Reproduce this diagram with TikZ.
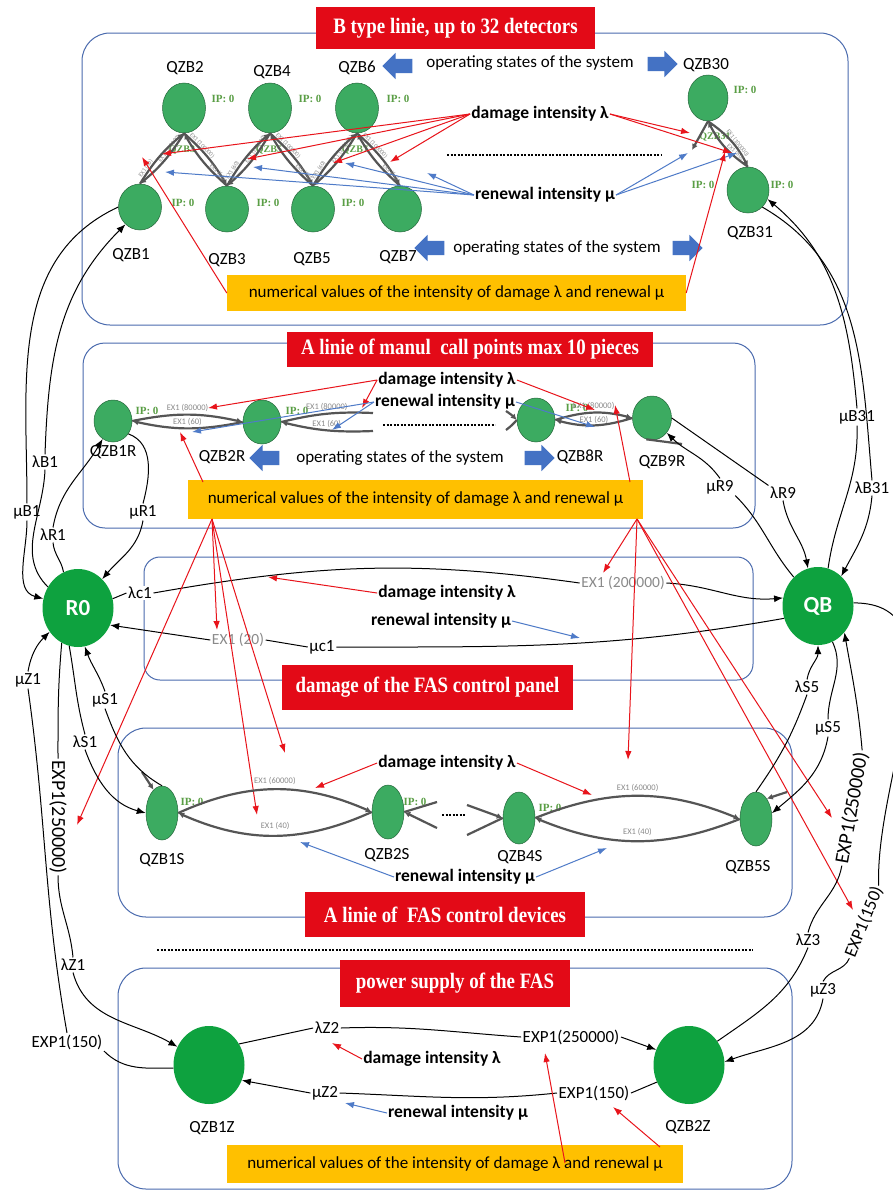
\documentclass[tikz,border=0pt]{standalone}
\usepackage{fontspec}
\setmainfont{Carlito}
\newfontfamily\serifface{Liberation Serif}
\usepackage{graphicx}
\usetikzlibrary{arrows.meta,shapes.geometric,shapes.arrows}

\definecolor{ngreen}{HTML}{3CAB61}
\definecolor{bgreen}{HTML}{0EA23F}
\definecolor{tred}{HTML}{E30A17}
\definecolor{ayellow}{HTML}{FFC000}
\definecolor{frameblue}{HTML}{4A6BAE}
\definecolor{ablue}{HTML}{4472C4}
\definecolor{lblue}{HTML}{4F7BC8}
\definecolor{arred}{HTML}{E8141B}
\definecolor{edgegray}{HTML}{555555}
\definecolor{ipgreen}{HTML}{5A9E45}
\definecolor{exgray}{HTML}{8A8A8A}

\newcommand{\TitleText}[1]{\scalebox{0.86}[1]{\serifface\bfseries\fontsize{22}{24}\selectfont #1}}

\begin{document}
\begin{tikzpicture}[x=1pt,y=-1pt,
  lbl/.style={font=\fontsize{17}{19}\selectfont, inner sep=1pt},
  onpath/.style={lbl, fill=white, inner sep=1.5pt},
  boldlbl/.style={font=\fontsize{17.5}{20}\selectfont\bfseries, inner sep=1pt},
  exlbl/.style={font=\fontsize{15.5}{17}\selectfont, text=exgray, fill=white, inner sep=1.5pt},
  elab/.style={font=\fontsize{8.5}{9}\selectfont, text=exgray, inner sep=0.5pt},
  elabt/.style={font=\fontsize{6}{6.5}\selectfont, text=exgray, inner sep=0pt},
  ipl/.style={font=\serifface\bfseries\fontsize{11}{12}\selectfont, text=ipgreen, inner sep=0pt},
  hidname/.style={font=\serifface\bfseries\fontsize{10}{10}\selectfont, text=ipgreen, inner sep=0pt},
  snode/.style={ellipse, fill=ngreen, draw=ngreen!60!black, line width=0.5pt, inner sep=0pt},
  bnode/.style={ellipse, fill=bgreen, inner sep=0pt, minimum width=71pt, minimum height=78pt,
                text=white, font=\bfseries\fontsize{23}{25}\selectfont},
  titlebox/.style={rectangle, fill=tred, text=white, inner sep=0pt},
  ybox/.style={rectangle, fill=ayellow, inner sep=0pt, font=\fontsize{17}{19}\selectfont},
  blueframe/.style={draw=frameblue, line width=1pt, rounded corners=28pt},
  blockarrow/.style={single arrow, fill=ablue, inner xsep=0pt, inner ysep=7pt,
                     minimum height=30pt, single arrow head extend=6pt},
  conn/.style={draw=black, line width=1pt},
  blk/.style={conn, -{Latex[length=9pt,width=7pt]}},
  redarr/.style={draw=arred, line width=1pt, -{Latex[length=9pt,width=6.5pt]}},
  bluearr/.style={draw=lblue, line width=1pt, -{Latex[length=9pt,width=6.5pt]}},
  gedge/.style={draw=edgegray, line width=2.2pt, -{Latex[length=6pt,width=6pt]}},
  dotline/.style={draw=black, line width=1.8pt, dash pattern=on 2.2pt off 1.3pt},
]
\useasboundingbox (0,0) rectangle (892,1191);
\fill[white] (0,0) rectangle (892,1191);

% ---------- section frames ----------
\draw[blueframe] (82,33) rectangle (848,325);
\draw[blueframe, rounded corners=22pt] (83,343) rectangle (755,528);
\draw[blueframe, rounded corners=16pt] (144,557) rectangle (753,680);
\draw[blueframe] (118,728) rectangle (792,917);
\draw[blueframe] (118,968) rectangle (792,1189);

% ---------- section titles ----------
\node[titlebox, minimum width=279pt, minimum height=42pt] (tB) at (455.5,28) {\TitleText{B type linie, up to 32 detectors}};
\node[titlebox, minimum width=366pt, minimum height=35pt] (tA) at (470,349.5) {\TitleText{A linie of manul~ call points max 10 pieces}};
\node[titlebox, minimum width=291pt, minimum height=45pt] (tC) at (427.5,687.5) {\TitleText{damage of the FAS control panel}};
\node[titlebox, minimum width=280pt, minimum height=45pt] (tS) at (445,914.5) {\TitleText{A linie of~ FAS control devices}};
\node[titlebox, minimum width=230pt, minimum height=47pt] (tZ) at (455,983.5) {\TitleText{power supply of the FAS}};

% ================= B type line =================
\node[hidname] (hb3) at (182,150) {QZB3};
\node[hidname] (hb5) at (269,150) {QZB5};
\node[hidname] (hb7) at (355,150) {QZB7};
\node[hidname] (hb31) at (715,137) {QZB31};

\node[snode, minimum width=43pt, minimum height=50pt] (b2) at (184,108) {};
\node[snode, minimum width=43pt, minimum height=50pt] (b4) at (270,108) {};
\node[snode, minimum width=43pt, minimum height=50pt] (b6) at (357,108) {};
\node[snode, minimum width=43pt, minimum height=46pt] (b1) at (140,207) {};
\node[snode, minimum width=43pt, minimum height=46pt] (b3) at (227,209) {};
\node[snode, minimum width=43pt, minimum height=46pt] (b5) at (313,209) {};
\node[snode, minimum width=43pt, minimum height=46pt] (b7) at (400,209) {};
\node[snode, minimum width=40pt, minimum height=46pt] (b30) at (708,98) {};
\node[snode, minimum width=42pt, minimum height=46pt] (b31) at (748,190) {};

\node[lbl] (b2n) at (185,68) {QZB2};
\node[lbl] (b4n) at (272,72) {QZB4};
\node[lbl] (b6n) at (357,68) {QZB6};
\node[lbl] (b1n) at (131,255) {QZB1};
\node[lbl] (b3n) at (227,260) {QZB3};
\node[lbl] (b5n) at (312,259) {QZB5};
\node[lbl] (b7n) at (398,257) {QZB7};
\node[lbl] (b30n) at (706,65) {QZB30};
\node[lbl] (b31n) at (750,233) {QZB31};

\node[ipl] (ip2) at (223,99) {IP: 0};
\node[ipl] (ip4) at (310,99) {IP: 0};
\node[ipl] (ip6) at (398,99) {IP: 0};
\node[ipl] (ip1) at (183,203) {IP: 0};
\node[ipl] (ip3) at (268,203) {IP: 0};
\node[ipl] (ip5) at (353,203) {IP: 0};
\node[ipl] (ip30) at (745,90) {IP: 0};
\node[ipl] (ip31a) at (703,185) {IP: 0};
\node[ipl] (ip31b) at (782,185) {IP: 0};

% transitions between neighbouring detector states
\foreach \t/\b in {b2/b1,b2/b3,b4/b3,b4/b5,b6/b5,b6/b7}{
  \draw[gedge] (\t.south) to[bend left=9] node[elabt, sloped, above, pos=0.3] {EX1 (100000)} (\b.north);
  \draw[gedge] (\b.north) to[bend left=9] node[elabt, sloped, above, pos=0.22] {EX1 (60)} (\t.south);
}
\draw[gedge] (b30.south) to[bend left=14] node[elabt, sloped, above, pos=0.6] {EX1 (100000)} (b31.north);
\draw[gedge] (b31.north) to[bend left=14] node[elabt, sloped, above, pos=0.3] {EX1 (60)} (b30.south);
\coordinate (b30stub) at (692,150);
\draw[gedge] (b30.south) -- (b30stub);

\node[lbl] (opB1) at (530,63) {operating states of the system};
\node[blockarrow, shape border rotate=180] (baB1) at (401,66) {};
\node[blockarrow] (baB2) at (659,64) {};
\node[lbl] (opB2) at (557,248) {operating states of the system};
\node[blockarrow, shape border rotate=180] (baB3) at (433,248) {};
\node[blockarrow] (baB4) at (684,248) {};

\draw[dotline] (447,155) -- (662,155);

\node[boldlbl] (dmgB) at (540,114) {damage intensity λ};
\node[boldlbl] (renB) at (545,195) {renewal intensity μ};
\coordinate (rB1) at (162,154); \coordinate (rB2) at (247,159);
\coordinate (rB3) at (333,163); \coordinate (rB4) at (390,162);
\coordinate (rB5) at (690,133); \coordinate (rB6) at (732,153);
\foreach \p in {rB1,rB2,rB3,rB4} \draw[redarr] (dmgB.west) -- (\p);
\foreach \p in {rB5,rB6} \draw[redarr] (dmgB.east) -- (\p);
\coordinate (uB1) at (165,172); \coordinate (uB2) at (253,167);
\coordinate (uB3) at (345,163); \coordinate (uB4) at (427,173);
\coordinate (uB5) at (688,153); \coordinate (uB6) at (737,153);
\foreach \p in {uB1,uB2,uB3,uB4} \draw[bluearr] (renB.west) -- (\p);
\foreach \p in {uB5,uB6} \draw[bluearr] (renB.east) -- (\p);

\node[ybox, minimum width=459pt, minimum height=36pt] (yB) at (456.5,293) {numerical values of the intensity of damage λ and renewal μ};
\coordinate (yBt1) at (142,157); \coordinate (yBt2) at (725,152);
\draw[redarr] (yB.west) -- (yBt1);
\draw[redarr] (yB.east) -- (yBt2);

% ================= A line (manual call points) =================
\node[snode, minimum width=38pt, minimum height=42pt] (r1) at (113,421) {};
\node[snode, minimum width=38pt, minimum height=44pt] (r2) at (262,422) {};
\node[snode, minimum width=38pt, minimum height=44pt] (r8) at (536,420) {};
\node[snode, minimum width=39pt, minimum height=44pt] (r9) at (652,418) {};
\node[lbl] (r1n) at (113,452) {QZB1R};
\node[lbl] (r2n) at (222,457) {QZB2R};
\node[lbl] (r8n) at (580,457) {QZB8R};
\node[lbl] (r9n) at (662,462) {QZB9R};
\node[ipl] (ipr1) at (147,411) {IP: 0};
\node[ipl] (ipr2) at (297,411) {IP: 0};
\node[ipl] (ipr8) at (577,408) {IP: 0};

\draw[gedge] (r1.east) to[bend left=12] node[elab, above=1pt] {EX1 (80000)} (r2.west);
\draw[gedge] (r2.west) to[bend left=12] node[elab, above=1pt] {EX1 (60)} (r1.east);
\coordinate (r2cutA) at (373,413); \coordinate (r2cutB) at (373,431);
\draw[gedge, -] (r2.east) to[bend left=8] node[elab, above=1pt] {EX1 (80000)} (r2cutA);
\draw[gedge] (r2cutB) to[bend left=8] node[elab, above=1pt] {EX1 (60)} (r2.east);
\coordinate (r8inA) at (506,411); \coordinate (r8inB) at (506,430);
\draw[gedge] (r8inA) to[bend left=6] (r8.west);
\draw[gedge, -] (r8.west) to[bend left=6] (r8inB);
\draw[gedge] (r8.east) to[bend left=16] node[elab, above=1pt] {EX1 (80000)} (r9.west);
\draw[gedge] (r9.west) to[bend left=16] node[elab, above=0pt] {EX1 (60)} (r8.east);
\coordinate (r9stub) at (682,444);
\draw[gedge, -] (r9stub) -- (r9.-105);

\draw[dotline] (383,425) -- (495,425);

\node[boldlbl] (dmgA) at (447,380) {damage intensity λ};
\node[boldlbl] (renA) at (445,402) {renewal intensity μ};
\coordinate (rA1) at (208,408); \coordinate (rA2) at (362,408); \coordinate (rA3) at (595,410);
\draw[redarr] (dmgA.west) -- (rA1);
\draw[redarr] (dmgA.west) -- (rA2);
\draw[redarr] (dmgA.east) -- (rA3);
\coordinate (uA1) at (192,432); \coordinate (uA2) at (332,430); \coordinate (uA3) at (595,427);
\draw[bluearr] (renA.west) -- (uA1);
\draw[bluearr] (renA.west) -- (uA2);
\draw[bluearr] (renA.east) -- (uA3);

\node[lbl] (opA) at (400,458) {operating states of the system};
\node[blockarrow, shape border rotate=180] (baA1) at (268,458) {};
\node[blockarrow] (baA2) at (536,458) {};

\node[ybox, minimum width=455pt, minimum height=39pt] (yA) at (415.5,499.5) {numerical values of the intensity of damage λ and renewal μ};
\coordinate (yAtl) at (203,482); \coordinate (yAtlt) at (180,432);
\coordinate (yAtr) at (630,482); \coordinate (yAtrt) at (615,405);
\draw[redarr] (yAtl) -- (yAtlt);
\draw[redarr] (yAtr) -- (yAtrt);

% ================= central states =================
\node[bnode] (r0) at (78,608) {R0};
\node[bnode] (qb) at (818,606) {QB};

% ---- control panel ----
\node[onpath] (lac1) at (140,593) {λc1};
\node[exlbl] (exc1) at (623,583) {EX1 (200000)};
\node[onpath] (muc1) at (322,647) {μc1};
\node[exlbl] (exc2) at (238,640) {EX1 (20)};
\draw[conn] (r0.15) -- (lac1.west);
\draw[conn] (lac1.east) to[out=10, in=172] (exc1.west);
\draw[blk] (exc1.east) to[out=-3, in=185] (qb.167);
\draw[conn] (qb.200) to[out=190, in=0] (muc1.east);
\draw[conn] (muc1.west) -- (exc2.east);
\draw[blk] (exc2.west) -- (r0.-28);

\node[boldlbl] (dmgC) at (447,593) {damage intensity λ};
\node[boldlbl] (renC) at (441,621) {renewal intensity μ};
\coordinate (rC1) at (268,577); \coordinate (uC1) at (580,638);
\draw[redarr] (dmgC.west) -- (rC1);
\draw[bluearr] (renC.east) -- (uC1);

% ---- links R0 <-> B and A lines ----
\node[onpath] (muB1) at (27,512) {μB1};
\node[onpath] (laB1) at (45,462) {λB1};
\node[onpath] (laR1) at (53,535) {λR1};
\node[onpath] (muR1) at (143,512) {μR1};
\draw[conn] (b1.west) to[out=205, in=90] (muB1.north);
\draw[blk] (muB1.south) to[out=270, in=165] (r0.165);
\draw[conn] (r0.145) to[out=135, in=268] (laB1.south);
\draw[blk] (laB1.north) to[out=88, in=225] (b1.230);
\draw[conn] (r0.112) to[out=100, in=275] (laR1.south);
\draw[blk] (laR1.north) to[out=80, in=240] (r1.240);
\draw[conn] (r1.-40) to[out=-20, in=75] (muR1.north);
\draw[blk] (muR1.south) to[out=260, in=50] (r0.50);

% ---- links QB <-> B and A lines ----
\node[onpath] (muB31) at (857,417) {μB31};
\node[onpath] (laB31) at (872,488) {λB31};
\node[onpath] (muR9) at (720,487) {μR9};
\node[onpath] (laR9) at (783,493) {λR9};
\draw[conn] (qb.75) to[out=82, in=-88] (muB31.south);
\draw[blk] (muB31.north) to[out=95, in=-40] (b31.-25);
\draw[conn] (b31.-50) to[out=-30, in=95] (laB31.north);
\draw[blk] (laB31.south) to[out=-95, in=62] (qb.52);
\draw[conn] (r9.east) -- (laR9.north west);
\draw[blk] (laR9.south) to[out=-80, in=100] (qb.105);
\draw[conn] (qb.130) to[out=130, in=-45] (muR9.south east);
\draw[blk] (muR9.north) to[out=125, in=-45] (r9.-45);

% ---- red links from the A-line value box ----
\coordinate (fanL) at (212,519);
\coordinate (fL1) at (77,825); \coordinate (fL2) at (217,630);
\coordinate (fL3) at (257,815); \coordinate (fL4) at (285,753);
\foreach \p in {fL1,fL2,fL3,fL4} \draw[redarr] (fanL) -- (\p);
\coordinate (fanR) at (637,519);
\coordinate (fR1) at (603,573); \coordinate (fR2) at (628,760);
\coordinate (fR3) at (832,818); \coordinate (fR4) at (853,910);
\foreach \p in {fR1,fR2,fR3,fR4} \draw[redarr] (fanR) -- (\p);

% ================= A line of FAS control devices =================
\node[snode, minimum width=32pt, minimum height=54pt] (s1) at (162,813) {};
\node[snode, minimum width=32pt, minimum height=54pt] (s2) at (388,812) {};
\node[snode, minimum width=32pt, minimum height=52pt] (s4) at (519,818) {};
\node[snode, minimum width=32pt, minimum height=54pt] (s5) at (756,819) {};
\node[lbl] (s1n) at (162,860) {QZB1S};
\node[lbl] (s2n) at (387,855) {QZB2S};
\node[lbl] (s4n) at (520,857) {QZB4S};
\node[lbl] (s5n) at (748,867) {QZB5S};
\node[ipl] (ips1) at (192,802) {IP: 0};
\node[ipl] (ips2) at (415,802) {IP: 0};
\node[ipl] (ips4) at (550,808) {IP: 0};

\draw[gedge] (s1.east) to[bend left=24] node[elab, above=3pt] {EX1 (60000)} (s2.west);
\draw[gedge] (s2.west) to[bend left=24] node[elab, above=4pt] {EX1 (40)} (s1.east);
\coordinate (s2a) at (437,802); \coordinate (s2b) at (437,828);
\draw[gedge, -] (s2.east) -- (s2a);
\draw[gedge] (s2b) -- (s2.east);
\draw[dotline] (442,815) -- (466,815);
\coordinate (s4a) at (467,805); \coordinate (s4b) at (467,835);
\draw[gedge] (s4a) -- (s4.west);
\draw[gedge, -] (s4b) -- (s4.west);
\draw[gedge] (s4.east) to[bend left=22] node[elab, above=3pt] {EX1 (60000)} (s5.west);
\draw[gedge] (s5.west) to[bend left=22] node[elab, above=4pt] {EX1 (40)} (s4.east);
\coordinate (s1stub) at (142,772); \coordinate (s5stub) at (787,792);
\draw[gedge] (s1stub) -- (s1.110);
\draw[gedge] (s5stub) -- (s5.62);

\node[boldlbl] (dmgS) at (447,763) {damage intensity λ};
\node[boldlbl] (renS) at (465,877) {renewal intensity μ};
\coordinate (rS1) at (315,788); \coordinate (rS2) at (592,795);
\draw[redarr] (dmgS.west) -- (rS1);
\draw[redarr] (dmgS.east) -- (rS2);
\coordinate (uS1) at (300,842); \coordinate (uS2) at (607,848);
\draw[bluearr] (renS.west) -- (uS1);
\draw[bluearr] (renS.east) -- (uS2);

% ---- links R0 <-> S line ----
\node[onpath] (laS1) at (85,742) {λS1};
\node[onpath] (muS1) at (105,700) {μS1};
\draw[conn] (r0.-103) to[out=-80, in=105] (laS1.north);
\draw[blk] (laS1.south) to[out=-70, in=165] (s1.west);
\draw[conn] (s1.north) to[out=150, in=-70] (muS1.south);
\draw[blk] (muS1.north) to[out=110, in=-70] (r0.-80);

% ---- links QB <-> S line ----
\node[onpath] (laS5) at (807,687) {λS5};
\node[onpath] (muS5) at (828,728) {μS5};
\draw[conn] (s5.north) to[out=55, in=-110] (laS5.south);
\draw[blk] (laS5.north) to[out=80, in=-90] (qb.south);
\draw[conn] (qb.-68) to[out=-65, in=90] (muS5.north);
\draw[blk] (muS5.south) to[out=-100, in=40] (s5.20);

% ================= power supply =================
\draw[dotline] (157,950) -- (753,950);

\node[bnode] (z1) at (209,1065) {};
\node[bnode] (z2) at (689,1065) {};
\node[lbl] (z1n) at (212,1128) {QZB1Z};
\node[lbl] (z2n) at (688,1127) {QZB2Z};

\node[onpath] (laZ2) at (327,1028) {λZ2};
\node[onpath] (expZ1) at (571,1037) {EXP1(250000)};
\node[onpath] (muZ2) at (325,1093) {μZ2};
\node[onpath] (expZ2) at (594,1093) {EXP1(150)};
\draw[conn] (z1.35) -- (laZ2.west);
\draw[conn] (laZ2.east) to[out=2, in=176] (expZ1.west);
\draw[blk] (expZ1.east) -- (z2.155);
\draw[conn] (z2.208) -- (expZ2.east);
\draw[conn] (expZ2.west) to[out=186, in=-2] (muZ2.east);
\draw[blk] (muZ2.west) -- (z1.-25);

\node[boldlbl] (dmgZ) at (432,1059) {damage intensity λ};
\node[boldlbl] (renZ) at (458,1113) {renewal intensity μ};
\coordinate (rZ1) at (332,1043); \coordinate (uZ1) at (345,1103);
\draw[redarr] (dmgZ.west) -- (rZ1);
\draw[bluearr] (renZ.west) -- (uZ1);

\node[ybox, minimum width=456pt, minimum height=38pt] (yZ) at (455,1164) {numerical values of the intensity of damage λ and renewal μ};
\coordinate (yZl) at (565,1163); \coordinate (yZlt) at (545,1053);
\coordinate (yZr) at (660,1147); \coordinate (yZrt) at (613,1107);
\draw[redarr] (yZl) -- (yZlt);
\draw[redarr] (yZr) -- (yZrt);

% ---- links R0 <-> power supply ----
\node[onpath, rotate=-90, font=\fontsize{20}{22}\selectfont] (expL) at (58,817) {EXP1(250000)};
\node[onpath] (laZ1) at (73,965) {λZ1};
\node[onpath] (muZ1) at (28,680) {μZ1};
\node[onpath] (expL2) at (67,1042) {EXP1(150)};
\draw[conn] (r0.-115) to[out=-95, in=90] (expL.west);
\draw[conn] (expL.east) to[out=-90, in=95] (laZ1.north);
\draw[blk] (laZ1.south) to[out=-75, in=150] (z1.150);
\draw[conn] (z1.185) to[out=180, in=-45] (expL2.south east);
\draw[conn] (expL2.north) to[out=100, in=-82] (muZ1.south);
\draw[blk] (muZ1.north) to[out=80, in=-135] (r0.-140);

% ---- links QB <-> power supply ----
\node[onpath, rotate=80, font=\fontsize{20}{22}\selectfont] (expR) at (852,808) {EXP1(250000)};
\node[onpath, rotate=68, font=\fontsize{18}{20}\selectfont] (expR2) at (864,922) {EXP1(150)};
\node[onpath] (laZ3) at (808,940) {λZ3};
\node[onpath] (muZ3) at (823,990) {μZ3};
\draw[conn] (z2.40) to[out=35, in=-112] (laZ3.south);
\draw[conn] (laZ3.north) to[out=75, in=-100] (expR.west);
\draw[blk] (expR.east) to[out=95, in=-80] (qb.-45);
\draw[conn] (qb.5) to[out=0, in=92] (expR2.east);
\draw[conn] (expR2.west) to[out=-112, in=62] (muZ3.north);
\draw[blk] (muZ3.south) to[out=-100, in=20] (z2.5);

\end{tikzpicture}
\end{document}
